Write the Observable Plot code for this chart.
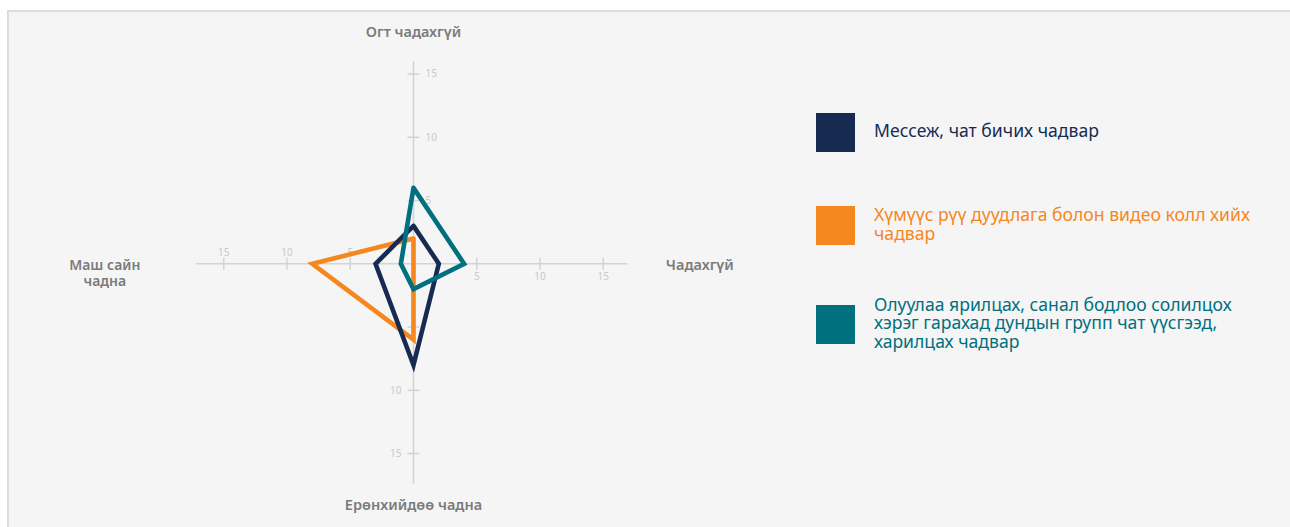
<!DOCTYPE html>
<html>
<head>
<meta charset="utf-8">
<script src="https://cdn.jsdelivr.net/npm/d3@7"></script>
<script src="https://cdn.jsdelivr.net/npm/@observablehq/plot@0.6"></script>
<style>
  html, body { margin: 0; padding: 0; background: #ffffff; }
  body { width: 1290px; height: 527px; position: relative; overflow: hidden; font-family: "Noto Sans", sans-serif; }
  #panel { position: absolute; left: 7px; top: 10px; right: 0; bottom: 0; background: #f5f5f5; border-top: 2px solid #dcdcdc; border-left: 2px solid #dcdcdc; }
  #chart { position: absolute; left: 0; top: 0; }
  #legend { position: absolute; left: 816px; top: 0; }
  .item { position: absolute; left: 0; display: flex; align-items: center; }
  .sw { width: 39px; height: 39px; flex: none; }
  .lbl { margin-left: 19px; font-size: 17.6px; line-height: 18.7px; white-space: pre; margin-top: -4px; }
</style>
</head>
<body>
<div id="panel"></div>
<div id="chart"></div>
<div id="legend"></div>
<script>
// ---- data ----
const axisNames = ["Огт чадахгүй", "Чадахгүй", "Ерөнхийдөө чадна", "Маш сайн\nчадна"];
const seriesNames = [
  "Мессеж, чат бичих чадвар",
  "Хүмүүс рүү дуудлага болон видео колл хийх\nчадвар",
  "Олуулаа ярилцах, санал бодлоо солилцох\nхэрэг гарахад дундын групп чат үүсгээд,\nхарилцах чадвар"
];
const seriesColors = ["#172b52", "#f5871f", "#00707f"];
const messaging = [3, 2, 8, 3];
const calls = [2, 0, 6, 8];
const groupChat = [6, 4, 2, 1];
const tickValues = [5, 10, 15];
const tickLabels = ["5", "10", "15"];
const axisExtent = [16, 16.9, 17.4, 17.2];

// ---- layout ----
const W = 1290, H = 527;
const k = 12.65;            // px per unit
const cx = 413, cy = 263.3; // centre in px
const dirs = axisNames.map((_, i) => {
  const a = i * Math.PI / 2;         // top, right, bottom, left
  return [Math.round(Math.sin(a)), Math.round(Math.cos(a))];
});
const seriesValues = [messaging, calls, groupChat];

const pts = [];
seriesValues.forEach((vals, s) => {
  [...vals, vals[0]].forEach((v, j) => {
    const [dx, dy] = dirs[j % 4];
    pts.push({series: seriesNames[s], order: s, x: dx * v, y: dy * v});
  });
});
const drawOrder = [1, 0, 2];

const axes = axisNames.map((n, i) => ({i, x2: dirs[i][0] * axisExtent[i], y2: dirs[i][1] * axisExtent[i]}));
const tl = 6 / k;
const ticks = [];
axisNames.forEach((n, i) => {
  tickValues.forEach((t, j) => {
    const [dx, dy] = dirs[i];
    ticks.push({i, label: tickLabels[j], x: dx * t, y: dy * t,
      x1: dx * t - dy * tl, x2: dx * t + dy * tl, y1: dy * t - dx * tl, y2: dy * t + dx * tl});
  });
});

const labelR = [18.3, 19.95, 19.1, 24.4];
const axisLabels = axisNames.map((n, i) => ({i, name: n, x: dirs[i][0] * labelR[i], y: dirs[i][1] * labelR[i]}));

const tickStyle = {fill: "#c9c9c9", fontSize: 10, fontFamily: "Noto Sans"};
const labStyle = {fill: "#7b7b7b", fontSize: 14.5, fontWeight: 600, fontFamily: "Noto Sans"};

const chart = Plot.plot({
  width: W, height: H,
  margin: 0,
  style: {background: "transparent", overflow: "visible"},
  x: {domain: [-cx / k, (W - cx) / k], range: [0, W], axis: null},
  y: {domain: [-(H - cy) / k, cy / k], range: [H, 0], axis: null},
  marks: [
    Plot.link(axes, {x1: 0, y1: 0, x2: "x2", y2: "y2", stroke: "#d3d3d3", strokeWidth: 1.5}),
    Plot.link(ticks, {x1: "x1", y1: "y1", x2: "x2", y2: "y2", stroke: "#d3d3d3", strokeWidth: 1.5}),
    Plot.text(ticks.filter(d => d.i === 0), {x: "x", y: "y", text: "label", textAnchor: "start", dx: 12, ...tickStyle}),
    Plot.text(ticks.filter(d => d.i === 1), {x: "x", y: "y", text: "label", dy: 13, ...tickStyle}),
    Plot.text(ticks.filter(d => d.i === 2), {x: "x", y: "y", text: "label", textAnchor: "end", dx: -12, ...tickStyle}),
    Plot.text(ticks.filter(d => d.i === 3), {x: "x", y: "y", text: "label", dy: -11, ...tickStyle}),
    ...drawOrder.map(s => Plot.line(pts.filter(d => d.order === s), {
      x: "x", y: "y", stroke: seriesColors[s], strokeWidth: 4.6,
      strokeLinejoin: "miter", strokeMiterlimit: 10, curve: "linear"
    })),
    Plot.text(axisLabels.filter(d => d.i === 1), {x: "x", y: "y", text: "name", textAnchor: "start", dy: 2, ...labStyle}),
    Plot.text(axisLabels.filter(d => d.i === 3), {x: "x", y: "y", text: "name", lineHeight: 1.15, dy: 9, ...labStyle, fontSize: 14}),
    Plot.text(axisLabels.filter(d => d.i === 0 || d.i === 2), {x: "x", y: "y", text: "name", ...labStyle})
  ]
});
document.getElementById("chart").appendChild(chart);

// legend
const legendCenters = [132.5, 225.5, 324.5];
const legend = document.getElementById("legend");
seriesNames.forEach((n, s) => {
  const it = document.createElement("div");
  it.className = "item";
  it.innerHTML = `<div class="sw" style="background:${seriesColors[s]}"></div><div class="lbl" style="color:${seriesColors[s]}"></div>`;
  it.querySelector(".lbl").textContent = n;
  legend.appendChild(it);
  it.style.top = (legendCenters[s] - it.offsetHeight / 2) + "px";
});
</script>
</body>
</html>
